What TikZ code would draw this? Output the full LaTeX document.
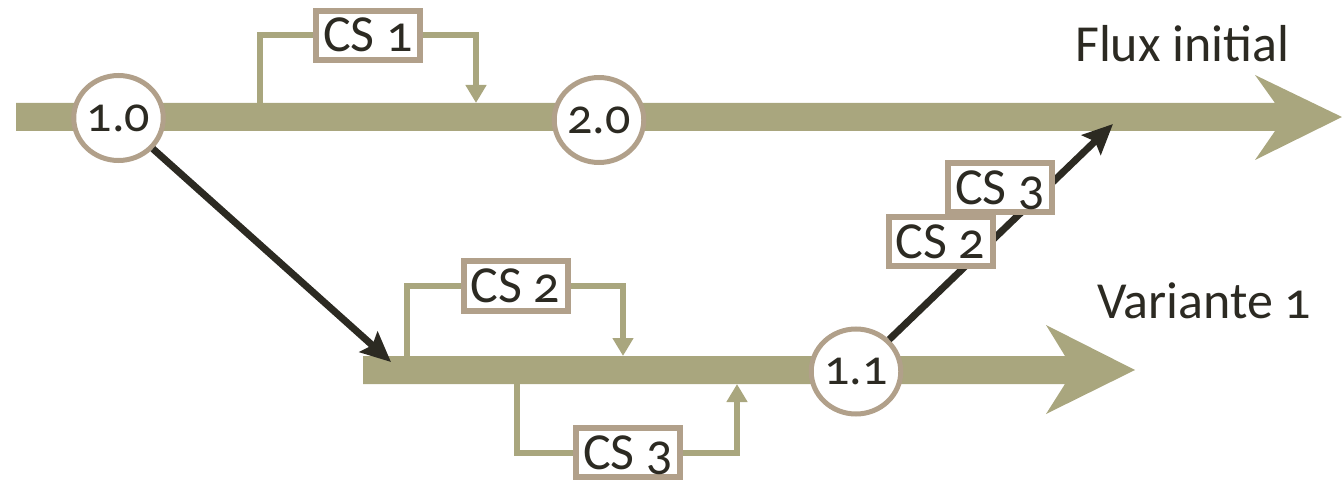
\documentclass[tikz,border=0pt]{standalone}
\usepackage{fontspec}
\setmainfont{Carlito}[Numbers=OldStyle]
\usetikzlibrary{arrows.meta,shapes.geometric}
\definecolor{flow}{HTML}{A9A67E}
\definecolor{taupe}{HTML}{B1A08A}
\definecolor{ink}{HTML}{2C2A22}
\begin{document}
\begin{tikzpicture}[x=1pt,y=-1pt,
  ver/.style={ellipse,draw=taupe,line width=5pt,fill=white,minimum width=82pt,minimum height=85pt,inner sep=0pt,text=ink,font=\fontsize{50}{50}\selectfont},
  csbox/.style={rectangle,draw=taupe,line width=6pt,fill=white,minimum width=104pt,minimum height=49pt,inner sep=0pt,text=ink,font=\fontsize{52}{52}\selectfont,text height=33pt,text depth=0pt},
  bracket/.style={draw=flow,line width=6pt},
  bracketarrow/.style={bracket,-{Triangle[length=18pt,width=20pt]}},
  merge/.style={draw=ink,line width=7pt,-{Stealth[length=30pt,width=27pt,inset=5pt]}},
  label/.style={text=ink,font=\fontsize{52}{52}\selectfont,inner sep=0pt}]
\useasboundingbox (0,0) rectangle (1342,481);
% main flows
\fill[flow] (16,103) -- (1275,103) -- (1255,75) -- (1342,117) -- (1255,160) -- (1275,131) -- (16,131) -- cycle;
\fill[flow] (363,356) -- (1065,356) -- (1046,325) -- (1135,370) -- (1046,414) -- (1065,384) -- (363,384) -- cycle;
% labels
\node[label,anchor=base west] (flux) at (1075,62) {Flux initial};
\node[label,anchor=base west] (var) at (1097,318) {Variante 1};
% coordinates
\coordinate (a1) at (260,103);
\coordinate (a2) at (476,103);
\coordinate (b1) at (407,356);
\coordinate (b2) at (623,356);
\coordinate (c1) at (517,384);
\coordinate (c2) at (737,384);
\coordinate (tipA) at (391,362);
\coordinate (tipB) at (1113,124);
% vertices
\node[ver] (v10) at (118.5,118) {1.0};
\node[ver] (v20) at (599,120) {2.0};
\node[ver] (v11) at (856,371.5) {1.1};
% merge arrows
\draw[merge] (v10) -- (tipA);
\draw[merge] (v11) -- (tipB);
% change sets
\node[csbox] (cs1) at (368,35.5) {CS 1};
\node[csbox] (cs2) at (515.5,286) {CS 2};
\node[csbox] (cs3) at (628,452.5) {CS 3};
\node[csbox] (cs3r) at (1000,188) {CS 3};
\node[csbox] (cs2r) at (940.5,242) {CS 2};
% brackets
\draw[bracket] (a1) |- (cs1.west);
\draw[bracketarrow] (cs1.east) -| (a2);
\draw[bracket] (b1) |- (cs2.west);
\draw[bracketarrow] (cs2.east) -| (b2);
\draw[bracket] (c1) |- (cs3.west);
\draw[bracketarrow] (cs3.east) -| (c2);
\end{tikzpicture}
\end{document}
